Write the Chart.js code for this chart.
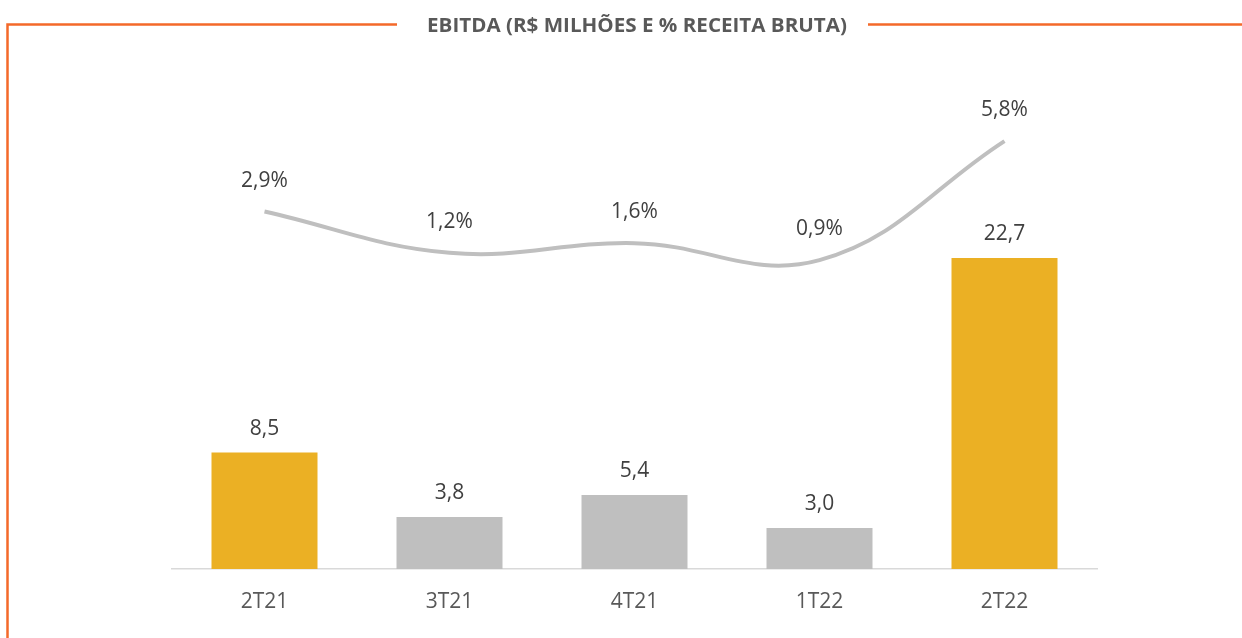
<!DOCTYPE html>
<html>
<head>
<meta charset="utf-8">
<script src="https://cdn.jsdelivr.net/npm/chart.js@4.4.0/dist/chart.umd.min.js"></script>
<style>
  html,body{margin:0;padding:0;background:#fff;}
  canvas{display:block;}
</style>
</head>
<body>
<canvas id="c" width="1242" height="638"></canvas>
<script>
const title = 'EBITDA (R$ MILHÕES E % RECEITA BRUTA)';
const categories = ['2T21', '3T21', '4T21', '1T22', '2T22'];
const ebitda = [8.5, 3.8, 5.4, 3.0, 22.7];
const margin = [2.9, 1.2, 1.6, 0.9, 5.8];
const barColors = ['#EBB024', '#BFBFBF', '#BFBFBF', '#BFBFBF', '#EBB024'];

const fmt = v => v.toFixed(1).replace('.', ',');

const framePlugin = {
  id: 'frame',
  beforeDraw(chart) {
    const ctx = chart.ctx;
    ctx.save();
    ctx.fillStyle = '#ffffff';
    ctx.fillRect(0, 0, chart.width, chart.height);
    ctx.strokeStyle = '#F4692A';
    ctx.lineWidth = 2.5;
    ctx.beginPath();
    ctx.moveTo(7.5, 638);
    ctx.lineTo(7.5, 24.5);
    ctx.lineTo(397, 24.5);
    ctx.moveTo(868, 24.5);
    ctx.lineTo(1242, 24.5);
    ctx.stroke();
    // title
    ctx.font = 'bold 19px "Open Sans"';
    ctx.fillStyle = '#595959';
    ctx.textAlign = 'center';
    ctx.textBaseline = 'alphabetic';
    const w = ctx.measureText(title).width;
    const target = 420;
    ctx.translate(637, 32);
    ctx.scale(target / w, 1);
    ctx.fillText(title, 0, 0);
    ctx.restore();
  }
};

const labelPlugin = {
  id: 'vlabels',
  afterDatasetsDraw(chart) {
    const ctx = chart.ctx;
    ctx.save();
    ctx.font = '21px "Open Sans"';
    ctx.fillStyle = '#404040';
    ctx.textAlign = 'center';
    ctx.textBaseline = 'alphabetic';
    chart.data.datasets.forEach((ds, di) => {
      const meta = chart.getDatasetMeta(di);
      meta.data.forEach((el, i) => {
        if (ds.type === 'bar') {
          ctx.fillText(fmt(ds.data[i]), el.x, el.y - 18);
        } else {
          ctx.fillText(fmt(ds.data[i]) + '%', el.x, el.y - 25);
        }
      });
    });
    ctx.restore();
  }
};

new Chart(document.getElementById('c'), {
  data: {
    labels: categories,
    datasets: [
      {
        type: 'line',
        data: margin,
        yAxisID: 'y2',
        borderColor: '#BFBFBF',
        borderWidth: 4,
        pointRadius: 0,
        tension: 0.4,
        fill: false,
        order: 0
      },
      {
        type: 'bar',
        data: ebitda,
        yAxisID: 'y',
        backgroundColor: barColors,
        categoryPercentage: 1,
        barPercentage: 0.573,
        order: 1
      }
    ]
  },
  options: {
    responsive: false,
    animation: false,
    devicePixelRatio: 1,
    layout: { padding: { left: 172, right: 145, top: 60, bottom: 0 } },
    plugins: { legend: { display: false }, tooltip: { enabled: false }, title: { display: false } },
    scales: {
      x: {
        offset: true,
        grid: { display: false, drawTicks: false },
        border: { display: true, color: '#D9D9D9', width: 1.5 },
        ticks: { font: { family: 'Open Sans', size: 21 }, color: '#595959', padding: 20, maxRotation: 0 },
        afterFit(scale) { scale.height = 69; }
      },
      y: { display: false, min: 0, max: 37.15 },
      y2: { display: false, min: -11.81, max: 9.136 }
    }
  },
  plugins: [framePlugin, labelPlugin]
});
</script>
</body>
</html>
